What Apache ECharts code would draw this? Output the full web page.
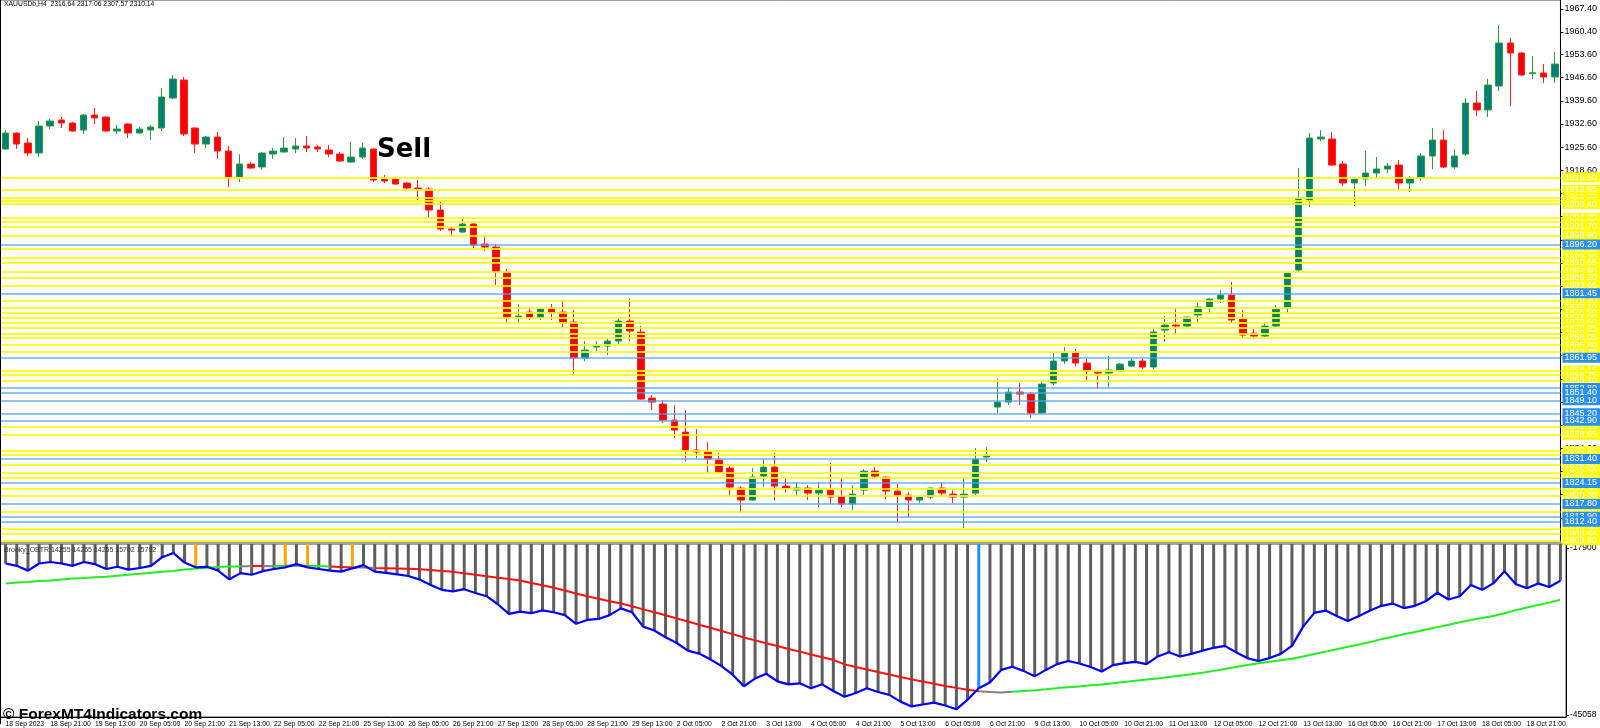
<!DOCTYPE html>
<html>
<head>
<meta charset="utf-8">
<script src="https://cdn.jsdelivr.net/npm/echarts@6/dist/echarts.min.js"></script>
<style>
html,body{margin:0;padding:0;background:#fff}
#chart{width:1600px;height:728px}
</style>
</head>
<body>
<div id="chart"></div>
<script>
// time axis labels, one every 4 bars (H4)
const tickLabels = ['18 Sep 2023','18 Sep 21:00','19 Sep 13:00','20 Sep 05:00','20 Sep 21:00','21 Sep 13:00','22 Sep 05:00','22 Sep 21:00','25 Sep 13:00','26 Sep 05:00','26 Sep 21:00','27 Sep 13:00','28 Sep 05:00','28 Sep 21:00','29 Sep 13:00','2 Oct 05:00','2 Oct 21:00','3 Oct 13:00','4 Oct 05:00','4 Oct 21:00','5 Oct 13:00','6 Oct 05:00','6 Oct 21:00','9 Oct 13:00','10 Oct 05:00','10 Oct 21:00','11 Oct 13:00','12 Oct 05:00','12 Oct 21:00','13 Oct 13:00','16 Oct 05:00','16 Oct 21:00','17 Oct 13:00','18 Oct 05:00','18 Oct 21:00'];

// [open, high, low, close]
const candles = [
[1925.03,1930.77,1924.72,1929.86],[1929.87,1930.17,1925.03,1926.54],[1926.85,1928.36,1922.92,1923.82],[1923.82,1933.49,1922.61,1931.98],[1931.98,1934.10,1931.08,1933.49],
[1933.80,1934.70,1931.38,1932.89],[1932.89,1933.19,1930.17,1930.47],[1930.77,1935.60,1929.57,1935.31],[1935.31,1937.42,1932.59,1934.40],[1934.70,1935.01,1930.30,1930.47],
[1930.47,1932.29,1929.57,1931.08],[1932.59,1932.80,1928.36,1929.87],[1929.87,1931.68,1929.70,1931.08],[1930.77,1932.29,1927.75,1931.68],[1931.38,1943.47,1930.47,1940.75],
[1940.44,1947.39,1940.14,1946.19],[1945.88,1946.79,1928.96,1929.57],[1931.38,1931.60,1923.82,1926.54],[1926.54,1928.96,1925.33,1928.66],[1928.66,1930.17,1922.01,1924.43],
[1924.43,1925.94,1913.55,1916.57],[1916.57,1923.52,1915.06,1920.50],[1920.50,1921.10,1919.00,1919.29],[1919.59,1924.13,1918.99,1923.82],[1923.52,1925.33,1922.01,1924.43],
[1924.13,1928.66,1923.90,1925.33],[1925.03,1928.36,1923.82,1925.94],[1925.94,1928.96,1924.13,1925.33],[1925.64,1926.24,1924.13,1925.03],[1924.73,1926.24,1922.61,1923.52],
[1923.52,1924.13,1921.20,1921.41],[1921.10,1927.15,1920.80,1922.61],[1922.61,1926.85,1922.01,1925.33],[1925.03,1925.33,1915.06,1915.66],[1915.97,1917.18,1914.76,1915.36],
[1915.97,1916.57,1914.30,1914.45],[1914.76,1915.06,1912.64,1913.25],[1913.25,1915.66,1909.32,1912.94],[1912.94,1913.55,1904.48,1906.60],[1906.60,1909.02,1900.25,1900.86],
[1900.86,1901.46,1899.04,1900.55],[1899.95,1903.88,1899.65,1902.37],[1902.37,1902.67,1895.11,1896.02],[1896.32,1899.04,1894.21,1895.42],[1895.42,1896.32,1883.93,1887.86],
[1887.86,1888.77,1872.45,1874.26],[1874.26,1878.19,1872.45,1874.56],[1875.77,1877.28,1873.36,1873.96],[1873.96,1876.98,1873.36,1876.68],[1876.68,1878.19,1873.36,1875.47],
[1875.77,1879.40,1870.94,1872.45],[1872.75,1876.38,1857.34,1861.87],[1861.87,1867.01,1860.97,1864.29],[1865.19,1867.01,1863.38,1865.50],[1865.50,1867.92,1862.78,1867.01],
[1867.01,1873.66,1865.80,1873.06],[1873.06,1879.70,1867.01,1870.03],[1869.73,1871.54,1849.18,1849.48],[1849.78,1850.69,1846.16,1848.57],[1847.97,1849.18,1842.23,1843.14],
[1843.14,1847.66,1837.70,1840.11],[1839.51,1846.16,1830.74,1833.77],[1834.07,1840.42,1831.65,1833.47],[1833.47,1836.49,1827.12,1831.35],[1831.05,1833.16,1827.12,1827.42],
[1828.63,1829.24,1819.86,1822.89],[1822.59,1823.19,1815.03,1818.96],[1818.96,1828.63,1818.70,1825.91],[1826.21,1831.35,1822.89,1828.93],[1828.93,1833.16,1818.96,1823.19],
[1823.19,1825.31,1821.38,1822.59],[1821.98,1824.40,1820.17,1822.59],[1822.59,1823.49,1818.96,1821.08],[1821.08,1824.40,1816.85,1821.98],[1821.98,1830.14,1817.75,1819.86],
[1820.17,1825.91,1816.85,1817.75],[1817.75,1823.49,1815.94,1820.77],[1821.98,1828.33,1820.47,1827.72],[1827.72,1828.93,1825.31,1826.21],[1825.91,1826.10,1819.26,1821.68],
[1821.68,1823.79,1812.31,1820.17],[1820.47,1821.38,1813.82,1818.96],[1818.96,1820.47,1818.05,1819.86],[1819.86,1822.80,1819.26,1822.59],[1822.59,1824.40,1819.86,1821.08],
[1820.77,1821.98,1818.05,1819.86],[1819.86,1825.91,1810.50,1820.77],[1821.08,1834.67,1820.17,1831.35],[1831.96,1834.97,1830.44,1832.56],[1847.06,1855.52,1845.25,1848.57],
[1848.57,1853.11,1847.67,1851.60],[1851.60,1854.32,1847.67,1850.99],[1850.99,1851.60,1843.74,1845.25],[1845.25,1855.22,1844.95,1854.02],[1854.32,1863.38,1853.71,1860.97],
[1860.97,1865.19,1860.06,1863.38],[1863.38,1864.59,1859.45,1860.36],[1860.36,1861.57,1854.92,1857.94],[1857.64,1858.25,1852.51,1857.34],[1857.34,1862.48,1853.11,1858.25],
[1857.94,1860.36,1857.70,1860.06],[1859.45,1861.87,1859.15,1860.97],[1860.97,1861.57,1858.55,1859.15],[1859.15,1870.94,1858.55,1869.73],[1870.33,1874.56,1866.71,1871.84],
[1871.84,1876.98,1868.82,1871.54],[1871.54,1874.40,1870.94,1874.26],[1874.87,1878.49,1872.75,1877.28],[1877.28,1879.90,1875.17,1879.70],[1879.70,1882.42,1878.49,1880.91],
[1880.91,1884.84,1872.45,1873.36],[1873.66,1876.38,1867.61,1868.82],[1869.43,1870.64,1867.61,1868.52],[1868.52,1872.75,1868.22,1871.54],[1871.54,1877.89,1871.24,1876.68],
[1876.98,1887.86,1875.47,1887.56],[1888.47,1919.29,1887.86,1910.22],[1909.32,1929.87,1907.51,1928.36],[1928.06,1930.77,1927.45,1928.66],[1928.06,1930.17,1919.89,1920.20],
[1920.50,1921.41,1913.85,1914.76],[1914.76,1916.27,1907.81,1915.97],[1915.97,1924.43,1913.85,1917.78],[1917.78,1922.61,1915.97,1918.99],[1918.99,1920.80,1917.78,1919.89],
[1920.20,1921.71,1912.94,1914.76],[1914.76,1916.87,1912.04,1916.27],[1916.27,1923.82,1915.36,1922.92],[1922.92,1931.38,1919.00,1927.75],[1927.75,1930.77,1919.29,1919.59],
[1919.59,1925.03,1918.99,1922.92],[1923.52,1940.44,1922.92,1938.93],[1938.93,1942.56,1935.01,1936.82],[1936.82,1946.19,1934.70,1944.37],[1944.07,1962.50,1942.56,1957.06],
[1957.06,1958.58,1938.03,1954.04],[1954.04,1954.30,1947.09,1947.39],[1947.80,1953.13,1946.19,1948.10],[1948.00,1950.72,1944.98,1946.79],[1946.79,1954.34,1944.98,1950.72]
];

// Brooky_OBTR main line (also drawn as the hanging histogram)
const obtr = [
-20444,-20819,-21599,-20444,-20194,-20444,-20819,-20194,-20553,-21334,
-20975,-21443,-21178,-20819,-19414,-18727,-20288,-21068,-20975,-21599,
-23004,-22005,-22270,-21693,-21334,-21068,-20553,-21068,-21334,-21599,
-21755,-21225,-20709,-21755,-21958,-22223,-22473,-23051,-23940,-24721,
-24970,-24611,-25236,-25751,-27062,-28623,-28248,-28513,-28045,-28357,
-28826,-30230,-29606,-29450,-28826,-27733,-28357,-30699,-31323,-32415,
-33352,-34601,-35069,-36005,-37098,-38503,-40376,-39127,-38346,-39595,
-40063,-39907,-40688,-40063,-41156,-42092,-41468,-40688,-41312,-41780,
-42873,-43653,-43341,-43029,-43497,-44121,-42561,-40688,-39751,-37722,
-37207,-37878,-38768,-37722,-36786,-36271,-36676,-37254,-37987,-36942,
-36630,-36427,-36786,-35537,-34866,-35537,-35116,-34601,-34132,-33820,
-34866,-35802,-36271,-35802,-35116,-33820,-30699,-28467,-28092,-28982,
-29762,-28982,-28092,-27312,-26953,-27686,-27312,-26531,-25189,-26282,
-25751,-23940,-24721,-23675,-21693,-23784,-24455,-23675,-24252,-23254
];

// signal line
const signal = [
-23675,-23519,-23441,-23285,-23207,-23051,-22895,-22817,-22660,-22582,
-22426,-22270,-22114,-21958,-21802,-21646,-21412,-21256,-21131,-21022,
-20944,-20912,-20866,-20855,-20870,-20819,-20787,-20792,-20866,-20944,
-21022,-21100,-21106,-21178,-21209,-21256,-21303,-21365,-21490,-21646,
-21802,-22036,-22270,-22504,-22738,-22973,-23207,-23597,-23987,-24377,
-24814,-25314,-25751,-26172,-26562,-26953,-27390,-27889,-28357,-28857,
-29372,-29871,-30386,-30886,-31401,-31916,-32447,-32930,-33383,-33851,
-34320,-34757,-35225,-35662,-36083,-36820,-37260,-37650,-38060,-38470,
-38880,-39260,-39620,-39980,-40320,-40640,-40950,-41200,-41330,-41380,
-41280,-41150,-41020,-40880,-40680,-40550,-40420,-40220,-40080,-39880,
-39680,-39480,-39290,-39100,-38893,-38659,-38425,-38190,-37878,-37566,
-37254,-36942,-36630,-36395,-36161,-35927,-35537,-35147,-34757,-34366,
-33976,-33586,-33196,-32728,-32337,-31947,-31557,-31167,-30777,-30386,
-29996,-29606,-29294,-28982,-28513,-28045,-27577,-27187,-26797,-26328
];

// signal line trend by bar range
const signalTrend = [
[0,21,'up'],[21,22,'flat'],[22,23,'down'],[23,24,'flat'],[24,25,'up'],[25,27,'flat'],
[27,29,'up'],[29,31,'down'],[31,33,'flat'],[33,87,'down'],[87,90,'flat'],[90,139,'up']
];

const orangeBars = [17,25,27,31];
const blueBars = [87];

const yellowLevels = [1916.50,1912.65,1910.30,1909.55,1908.40,1904.20,1902.95,1901.70,1898.90,1894.80,1892.30,1890.65,1887.90,1886.20,1883.65,1879.20,1877.10,1875.50,1874.00,1872.60,1870.95,1869.20,1868.05,1865.80,1863.70,1858.15,1856.75,1855.10,1841.15,1838.65,1833.80,1832.70,1829.50,1827.20,1825.60,1822.30,1820.30,1815.50,1810.40,1808.65,1806.80];
const blueLevels = [1896.20,1881.45,1861.95,1852.80,1851.40,1849.10,1845.20,1842.90,1831.40,1824.15,1817.80,1813.90,1812.40];

const priceTicks = [1813.6,1820.6,1827.6,1834.6,1841.6,1848.6,1855.6,1862.6,1869.6,1876.6,1883.6,1890.6,1897.6,1904.6,1911.6,1918.6,1925.6,1932.6,1939.6,1946.6,1953.6,1960.4,1967.4];
const panelTicks = [-45058,-17900];

const FONT = '"Liberation Sans", Arial, sans-serif';
const trendColor = { up: '#22ee22', down: '#ff1010', flat: '#808080' };

const chart = echarts.init(document.getElementById('chart'));
const cats = candles.map((_, i) => i);

const levelItems = yellowLevels.map(v => ({ v, bg: '#ffff00', line: 'rgba(255,255,0,0.85)', w: 2 }))
  .concat(blueLevels.map(v => ({ v, bg: '#2b8ff0', line: 'rgba(80,160,240,0.85)', w: 1.5 })));

chart.setOption({
  animation: false,
  backgroundColor: '#ffffff',
  grid: [
    { left: -4, width: 1570, top: 0, height: 542, show: true, borderColor: '#444', borderWidth: 1 },
    { left: -4, width: 1570, top: 544, height: 180, show: true, borderColor: '#444', borderWidth: 1 }
  ],
  xAxis: [
    { type: 'category', data: cats, gridIndex: 0, boundaryGap: true, show: false },
    {
      type: 'category', data: cats, gridIndex: 1, boundaryGap: true,
      axisLine: { lineStyle: { color: '#000' } },
      axisTick: { interval: 3, alignWithLabel: true, length: 3, lineStyle: { color: '#000' } },
      axisLabel: {
        interval: 3, align: 'left', margin: 4, fontSize: 6.8, fontFamily: FONT, color: '#000',
        formatter: (v, i) => tickLabels[i / 4] || ''
      },
      splitLine: { show: false }
    }
  ],
  yAxis: [
    {
      type: 'value', gridIndex: 0, position: 'right', min: 1806.3, max: 1970.06, scale: true,
      axisLine: { show: true, lineStyle: { color: '#000' } },
      axisTick: { show: true, length: 3, customValues: priceTicks, lineStyle: { color: '#000' } },
      axisLabel: { customValues: priceTicks, formatter: v => v.toFixed(2), fontSize: 9, fontFamily: FONT, color: '#000', margin: 4 },
      splitLine: { show: false }
    },
    {
      type: 'value', gridIndex: 1, position: 'right', min: -45370, max: -17276,
      axisLine: { show: true, lineStyle: { color: '#000' } },
      axisTick: { show: true, length: 3, customValues: panelTicks, lineStyle: { color: '#000' } },
      axisLabel: { customValues: panelTicks, formatter: v => String(v), fontSize: 8.5, fontFamily: FONT, color: '#000', margin: 4 },
      splitLine: { show: false }
    }
  ],
  visualMap: {
    type: 'piecewise', show: false, seriesIndex: 4, dimension: 0,
    pieces: signalTrend.map((s, k) => k === 0
      ? { gte: s[0], lte: s[1], color: trendColor[s[2]] }
      : { gt: s[0], lte: s[1], color: trendColor[s[2]] })
  },
  series: [
    {
      name: 'XAUUSDb', type: 'candlestick', xAxisIndex: 0, yAxisIndex: 0, barWidth: 7,
      data: candles.map(c => [c[0], c[3], c[2], c[1]]),
      itemStyle: { color: '#007f76', color0: '#ff0000', borderColor: '#2f9e3a', borderColor0: '#ff2020', borderWidth: 1 },
      z: 2
    },
    {
      name: 'levels', type: 'line', xAxisIndex: 0, yAxisIndex: 0, data: [], z: 4, silent: true,
      markLine: {
        symbol: ['none', 'none'], silent: true, animation: false,
        data: levelItems.map(l => ({
          yAxis: l.v,
          lineStyle: { color: l.line, width: l.w, type: 'solid' },
          label: {
            show: true, position: 'end', distance: 2, formatter: p => Number(p.value).toFixed(2),
            backgroundColor: l.bg, color: '#ffffff', fontSize: 9, fontFamily: FONT,
            padding: [0, 3, 0, 2], lineHeight: 10
          }
        }))
      }
    },
    {
      name: 'hist', type: 'bar', xAxisIndex: 1, yAxisIndex: 1, barWidth: 3, data: obtr, z: 2,
      itemStyle: {
        color: p => blueBars.includes(p.dataIndex) ? '#1e90ff'
          : (orangeBars.includes(p.dataIndex) ? '#ffa500' : '#5e5e5e')
      }
    },
    {
      name: 'Brooky_OBTR', type: 'line', xAxisIndex: 1, yAxisIndex: 1, data: obtr, z: 5,
      symbol: 'none', lineStyle: { color: '#0000ff', width: 2.2 }
    },
    {
      name: 'signal', type: 'line', xAxisIndex: 1, yAxisIndex: 1, data: signal, z: 4,
      symbol: 'none', lineStyle: { width: 2 }
    }
  ],
  graphic: [
    { type: 'line', shape: { x1: 0.5, y1: 0, x2: 0.5, y2: 724 }, style: { stroke: '#000', lineWidth: 1 }, z: 10 },
    { type: 'text', left: 4, top: 1, z: 10,
      style: { text: 'XAUUSDb,H4  2316.64 2317.06 2307.57 2310.14', fontSize: 6.8, fontFamily: FONT, fill: '#000' } },
    { type: 'text', left: 377, top: 137, z: 10,
      style: { text: 'Sell', fontSize: 26, fontWeight: 'bold', fontFamily: '"DejaVu Sans", sans-serif', fill: '#000' } },
    { type: 'text', left: 4, top: 547, z: 10,
      style: { text: 'Brooky_OBTR 14255 14255 14255 15702 15702', fontSize: 7, fontFamily: FONT, fill: '#333' } },
    { type: 'text', left: 3, top: 707, z: 10,
      style: { text: '\u00a9 ForexMT4Indicators.com', fontSize: 15.5, fontWeight: 'bold', fontFamily: FONT, fill: '#000' } }
  ]
});
</script>
</body>
</html>
